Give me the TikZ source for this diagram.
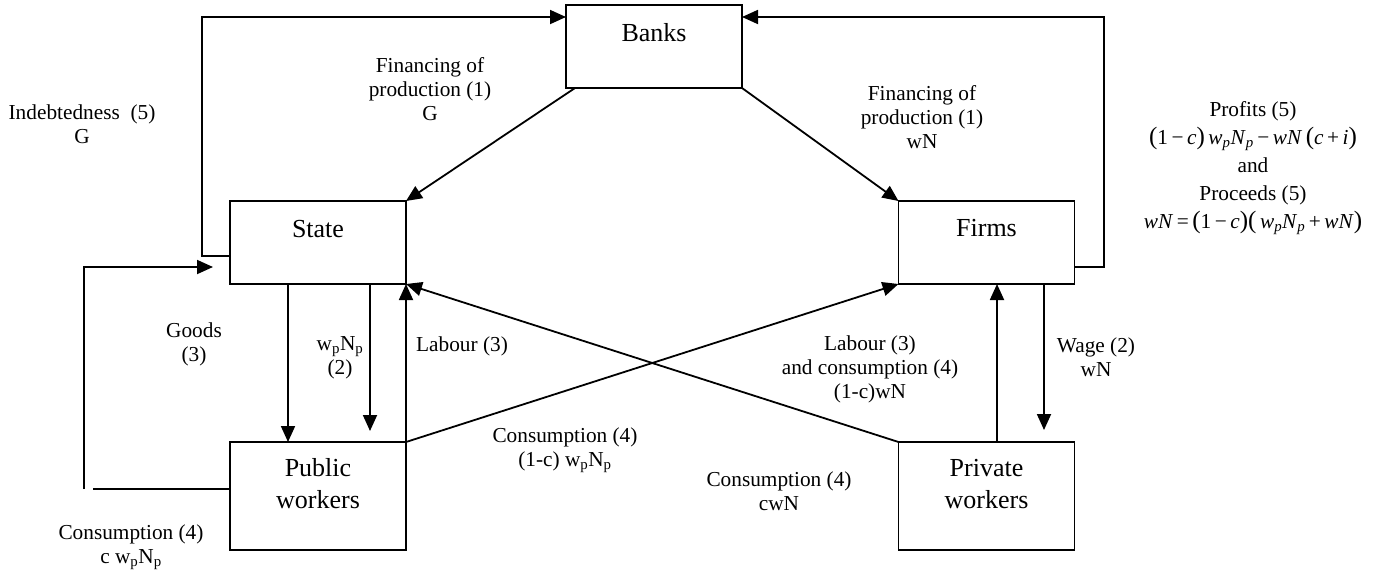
\documentclass[tikz,border=0pt]{standalone}
\usepackage{fontspec}
\setmainfont{Liberation Serif}
\usetikzlibrary{arrows.meta,calc}
\newcommand\itx[1]{\textit{#1}}
\newcommand\sbp{\textsubscript{\textit{p}}}
\newcommand\rsp{\textsubscript{p}}
\newcommand\bpar[1]{{\fontsize{25}{28}\selectfont\raisebox{-0.5pt}{#1}}}
\begin{document}
\begin{tikzpicture}[x=1pt,y=-1pt,
  box/.style={draw, line width=1.8pt, inner sep=0pt, outer sep=0pt},
  topbox/.style={box, minimum width=176pt, minimum height=83pt},
  botbox/.style={box, minimum width=176pt, minimum height=108pt},
  boxtext/.style={font=\fontsize{26}{32}\selectfont, align=center, inner sep=0pt},
  lab/.style={font=\fontsize{21.3}{24}\selectfont, align=center, inner sep=0pt},
  link/.style={line width=1.8pt},
  arr/.style={link, -{Triangle[length=16pt,width=14pt]}},
]
\useasboundingbox (0,0) rectangle (1379,574);

% boxes
\node[topbox] (banks) at (654,46.5) {};
\node[topbox] (state) at (318,242.5) {};
\node[topbox] (firms) at (986.5,242.5) {};
\node[botbox] (public) at (318,496) {};
\node[botbox] (private) at (986.5,496) {};

% box texts
\node[boxtext] (banksT) at (654,33) {Banks};
\node[boxtext] (stateT) at (318,229) {State};
\node[boxtext] (firmsT) at (986.5,228) {Firms};
\node[boxtext] (publicT) at (318,484) {Public\\workers};
\node[boxtext] (privateT) at (986.5,484) {Private\\workers};

% helper coordinates
\coordinate (ind1) at (202,256);
\coordinate (fb) at (1104,267);
\coordinate (cl1) at (93,489);
\coordinate (cl2) at (84,489);
\coordinate (cl3) at (213,267);
\coordinate (wp) at (370,431);
\coordinate (wg) at (1044,430);

% connectors
\draw[arr] ($(banks.south west)+(9,0)$) -- (state.north east);
\draw[arr] (banks.south east) -- (firms.north west);
\draw[arr] (state.west |- ind1) -- (ind1) |- ($(banks.north west)+(0,12)$);
\draw[arr] (firms.east |- fb) -- (fb) |- ($(banks.north east)+(0,12)$);
\draw[link] (public.west |- cl1) -- (cl1);
\draw[arr] (cl2) |- (cl3);
\draw[arr] ($(state.south)+(-30,0)$) -- ($(public.north)+(-30,0)$);
\draw[arr] (state.south -| wp) -- (wp);
\draw[arr] (public.north east) -- (state.south east);
\draw[arr] (public.north east) -- (firms.south west);
\draw[arr] (private.north west) -- (state.south east);
\draw[arr] ($(private.north)+(10.5,0)$) -- ($(firms.south)+(10.5,0)$);
\draw[arr] (firms.south -| wg) -- (wg);

% labels
\node[lab] (lInd) at (82,124) {Indebtedness\ \ (5)\\G};
\node[lab] (lFinG) at (430,89) {Financing of\\production (1)\\G};
\node[lab] (lFinW) at (922,117) {Financing of\\production (1)\\wN};
\node[lab, font=\fontsize{21.3}{28}\selectfont] (lProf) at (1253,168)
  {Profits (5)\\
   \bpar{(}1\,−\,\itx{c}\bpar{)}\,\itx{w}\sbp\itx{N}\sbp\,−\,\itx{wN}\,\bpar{(}\itx{c}\,+\,\itx{i}\bpar{)}\\
   and\\
   Proceeds (5)\\
   \itx{wN}\,=\,\bpar{(}1\,−\,\itx{c}\bpar{)}\bpar{(}\,\itx{w}\sbp\itx{N}\sbp\,+\,\itx{wN}\bpar{)}};
\node[lab] (lGoods) at (194,344) {Goods\\(3)};
\node[lab] (lWp) at (340,358) {w\rsp N\rsp\\(2)};
\node[lab] (lLab) at (462,346) {Labour (3)};
\node[lab] (lLab2) at (870,369) {Labour (3)\\and consumption (4)\\(1-c)wN};
\node[lab] (lCons1) at (565,450) {Consumption (4)\\(1-c) w\rsp N\rsp};
\node[lab] (lCons2) at (779,491) {Consumption (4)\\cwN};
\node[lab] (lWage) at (1096,357) {Wage (2)\\wN};
\node[lab] (lCons3) at (131,547) {Consumption (4)\\c w\rsp N\rsp};
\end{tikzpicture}
\end{document}
